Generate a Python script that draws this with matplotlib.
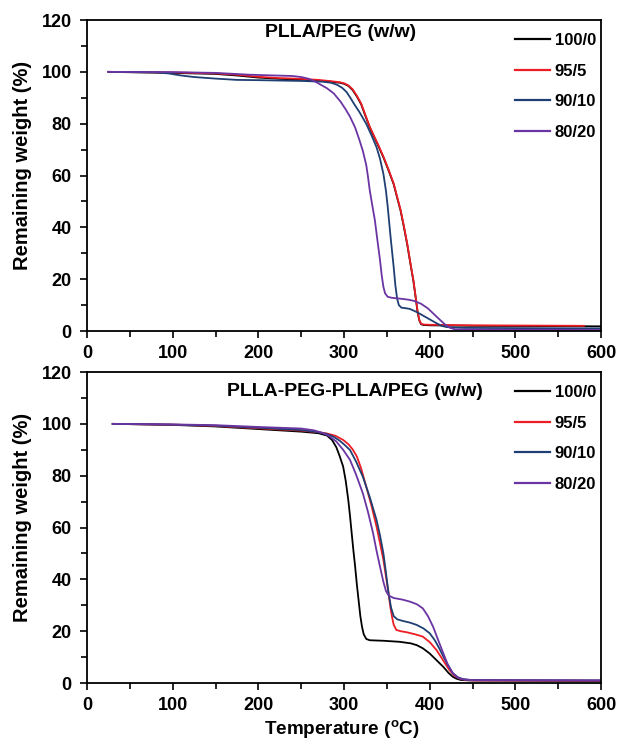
import matplotlib
matplotlib.use('Agg')
import matplotlib.pyplot as plt
from matplotlib.ticker import MultipleLocator

plt.rcParams['font.family'] = ['Liberation Sans', 'DejaVu Sans']
plt.rcParams['font.weight'] = 'bold'
plt.rcParams['mathtext.fontset'] = 'custom'
plt.rcParams['mathtext.rm'] = 'Liberation Sans:bold'
plt.rcParams['mathtext.bf'] = 'Liberation Sans:bold'

labels = ['100/0', '95/5', '90/10', '80/20']
colors = ['#000000', '#ee1c24', '#1f3f73', '#6a35a3']

# --- PLLA/PEG (w/w) ---
top_t_100 = [25, 60, 100, 150, 175, 200, 225, 250, 270, 285, 295, 300, 305, 310, 315, 320, 325, 330, 335, 340,
             346, 352, 358, 362, 366, 370, 374, 378, 381, 384, 386, 388, 390, 393, 400, 450, 600]
top_w_100 = [100, 99.8, 99.6, 99.2, 98.6, 97.8, 97.3, 97.0, 96.6, 96.2, 95.8, 95.4, 94.6, 93.0, 90.5, 87.5, 83.0,
             78.6, 75.0, 71.5, 67.0, 62.0, 56.6, 51.5, 46.5, 40.0, 33.0, 25.0, 19.3, 12.0, 7.0, 4.0, 2.6, 2.3,
             2.2, 2.0, 1.8]
top_t_95 = [25, 60, 100, 150, 175, 200, 225, 250, 270, 285, 295, 300, 305, 310, 315, 320, 325, 330, 335, 340,
            346, 352, 358, 362, 366, 370, 374, 378, 381, 384, 386, 388, 390, 393, 400, 450, 580]
top_w_95 = [100, 99.9, 99.8, 99.4, 98.9, 98.1, 97.6, 97.3, 96.9, 96.4, 96.0, 95.6, 94.8, 93.3, 90.8, 87.8, 83.3,
            78.9, 75.3, 71.8, 67.3, 62.3, 56.9, 51.8, 46.8, 40.3, 33.3, 25.3, 19.6, 12.3, 7.3, 4.2, 2.8, 2.5,
            2.4, 2.2, 2.0]
top_t_90 = [25, 80, 95, 110, 125, 150, 175, 200, 250, 275, 285, 292, 298, 303, 307, 312, 318, 326, 332, 338,
            342, 346, 349, 351, 354, 356, 358, 360, 362, 364, 367, 372, 377, 385, 392, 400, 408, 414, 420, 440, 600]
top_w_90 = [100, 99.8, 99.4, 98.6, 98.0, 97.4, 96.9, 96.8, 96.5, 96.2, 95.8, 95.0, 93.8, 92.2, 90.2, 87.5, 84.5,
            79.9, 75.6, 70.9, 66.5, 60.6, 54.0, 48.0, 37.5, 31.0, 24.6, 17.5, 12.5, 10.0, 9.0, 8.8, 8.5, 7.3,
            6.0, 4.5, 3.0, 2.0, 1.5, 1.2, 1.0]
top_t_80 = [25, 100, 150, 190, 220, 240, 250, 258, 265, 272, 280, 288, 296, 302, 307, 313, 318, 322, 326, 328,
            330, 333, 336, 339, 342, 344, 346, 348, 351, 356, 365, 375, 382, 390, 398, 405, 412, 418, 424, 430,
            470, 600]
top_w_80 = [100, 99.9, 99.6, 98.9, 98.6, 98.4, 98.0, 97.4, 96.5, 95.2, 93.7, 91.7, 88.5, 85.5, 82.7, 78.5, 73.7,
            69.5, 64.0, 59.5, 54.4, 48.5, 42.8, 35.0, 27.4, 21.5, 17.0, 14.5, 13.2, 12.8, 12.5, 12.1, 11.6,
            10.5, 8.7, 6.5, 4.3, 2.5, 1.2, 0.6, 0.5, 0.4]

# --- PLLA-PEG-PLLA/PEG (w/w) ---
bot_t_100 = [30, 100, 150, 200, 250, 270, 280, 286, 291, 295, 299, 302, 305, 307, 309, 311, 313, 315, 317, 319,
             321, 323, 326, 330, 346, 365, 378, 385, 392, 400, 408, 416, 422, 427, 431, 436, 445, 600]
bot_w_100 = [100, 99.6, 99.0, 98.0, 97.0, 96.4, 95.5, 93.8, 91.0, 87.5, 83.5, 78.0, 70.6, 64.5, 57.7, 51.0, 44.9,
             38.0, 32.0, 26.0, 21.7, 18.8, 17.0, 16.5, 16.3, 15.9, 15.3, 14.6, 13.4, 11.4, 8.8, 6.2, 3.9, 2.4,
             1.7, 1.2, 1.0, 0.8]
bot_t_95 = [30, 100, 150, 200, 250, 270, 280, 290, 299, 305, 310, 315, 320, 326, 332, 338, 342, 346, 349, 352,
            354, 356, 358, 361, 366, 373, 383, 392, 400, 408, 416, 423, 429, 435, 442, 450, 600]
bot_w_95 = [100, 99.7, 99.2, 98.3, 97.4, 96.8, 96.3, 95.4, 93.8, 92.2, 90.2, 87.4, 82.8, 75.7, 68.5, 60.3, 54.0,
            47.5, 41.0, 34.6, 29.5, 25.6, 22.5, 20.5, 20.0, 19.6, 18.8, 17.9, 15.8, 12.7, 8.6, 5.0, 2.8, 1.7,
            1.2, 1.0, 0.9]
bot_t_90 = [30, 100, 150, 200, 250, 270, 280, 288, 295, 301, 307, 314, 322, 330, 338, 342, 346, 349, 352, 355,
            358, 362, 368, 377, 385, 393, 400, 406, 411, 416, 422, 427, 433, 439, 450, 600]
bot_w_90 = [100, 99.7, 99.3, 98.5, 97.6, 96.8, 96.1, 95.0, 93.5, 91.8, 89.9, 85.5, 79.6, 71.8, 62.9, 57.0, 50.0,
            42.5, 34.6, 29.0, 25.8, 24.6, 24.0, 23.3, 22.4, 21.0, 19.2, 16.5, 13.5, 10.2, 6.5, 3.8, 2.2, 1.5,
            1.1, 1.0]
bot_t_80 = [30, 100, 150, 200, 250, 265, 275, 283, 291, 299, 307, 314, 322, 328, 334, 338, 342, 346, 349, 352,
            358, 368, 377, 385, 392, 398, 404, 410, 416, 421, 427, 433, 439, 450, 600]
bot_w_80 = [100, 99.8, 99.5, 98.8, 98.2, 97.5, 96.5, 95.2, 93.2, 90.0, 86.1, 80.5, 73.2, 66.0, 57.7, 51.0, 44.9,
            39.0, 35.5, 33.8, 32.8, 32.2, 31.4, 30.4, 28.8, 25.8, 21.7, 16.5, 11.4, 7.2, 3.8, 2.0, 1.4, 1.1, 1.0]

panels = [
    ('PLLA/PEG (w/w)', 296, 115, [(top_t_100, top_w_100), (top_t_95, top_w_95),
                                  (top_t_90, top_w_90), (top_t_80, top_w_80)]),
    ('PLLA-PEG-PLLA/PEG (w/w)', 313, 112.3, [(bot_t_100, bot_w_100), (bot_t_95, bot_w_95),
                                            (bot_t_90, bot_w_90), (bot_t_80, bot_w_80)]),
]

fig = plt.figure(figsize=(6.18, 7.42), dpi=100)
ax_top = fig.add_axes([0.1408, 0.5539, 0.8317, 0.4191])
ax_bot = fig.add_axes([0.1408, 0.0795, 0.8317, 0.4191])

for ax, (title, title_x, title_y, series) in zip([ax_top, ax_bot], panels):
    for (t, w), lab, c in zip(series, labels, colors):
        ax.plot(t, w, color=c, lw=1.3, label=lab)
    ax.set_xlim(0, 600)
    ax.set_ylim(0, 120)
    ax.xaxis.set_major_locator(MultipleLocator(100))
    ax.xaxis.set_minor_locator(MultipleLocator(50))
    ax.yaxis.set_major_locator(MultipleLocator(20))
    ax.yaxis.set_minor_locator(MultipleLocator(10))
    ax.tick_params(which='both', direction='out', width=1.2, top=False, right=False, labelsize=13)
    ax.tick_params(which='major', length=5)
    ax.tick_params(which='minor', length=4)
    ax.tick_params(axis='y', pad=6)
    ax.tick_params(axis='x', pad=5)
    for s in ax.spines.values():
        s.set_linewidth(1.3)
    ax.set_ylabel('Remaining weight (%)', fontsize=14.5, fontweight='bold')
    ax.yaxis.set_label_coords(-0.108, 0.534)
    ax.text(title_x, title_y, title, ha='center', va='center', fontsize=14, fontweight='bold')
    leg = ax.legend(loc='upper right', bbox_to_anchor=(1.0, 0.974), frameon=False, fontsize=12,
                    handlelength=2.1, handletextpad=0.3, labelspacing=0.93, borderaxespad=0.1,
                    borderpad=0.2)
    for h in leg.get_lines():
        h.set_linewidth(1.6)

ax_bot.set_xlabel(r'Temperature ($^{\mathrm{o}}$C)', fontsize=13.6, fontweight='bold')
ax_bot.xaxis.set_label_coords(0.496, -0.112)

fig.savefig('out.png', dpi=100)
